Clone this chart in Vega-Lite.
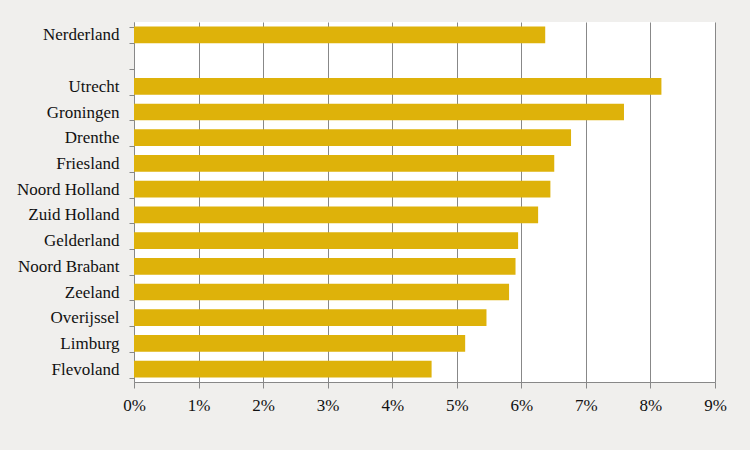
{
  "$schema": "https://vega.github.io/schema/vega-lite/v6.json",
  "width": 581,
  "height": 360,
  "autosize": {"type": "none"},
  "padding": {"left": 134, "top": 22, "right": 35, "bottom": 68},
  "background": "#f0efed",
  "view": {"fill": "#ffffff", "stroke": null},
  "data": {
    "values": [
      {"regio": "Nerderland", "waarde": 0.0637},
      {"regio": "Utrecht", "waarde": 0.0817},
      {"regio": "Groningen", "waarde": 0.0759},
      {"regio": "Drenthe", "waarde": 0.0677},
      {"regio": "Friesland", "waarde": 0.0651},
      {"regio": "Noord Holland", "waarde": 0.0645},
      {"regio": "Zuid Holland", "waarde": 0.0626},
      {"regio": "Gelderland", "waarde": 0.0595},
      {"regio": "Noord Brabant", "waarde": 0.0591},
      {"regio": "Zeeland", "waarde": 0.0581},
      {"regio": "Overijssel", "waarde": 0.0546},
      {"regio": "Limburg", "waarde": 0.0513},
      {"regio": "Flevoland", "waarde": 0.0461}
    ]
  },
  "mark": {"type": "bar", "color": "#deb20a"},
  "encoding": {
    "y": {
      "field": "regio",
      "type": "nominal",
      "sort": null,
      "scale": {
        "domain": ["Nerderland", " ", "Utrecht", "Groningen", "Drenthe", "Friesland", "Noord Holland", "Zuid Holland", "Gelderland", "Noord Brabant", "Zeeland", "Overijssel", "Limburg", "Flevoland"],
        "paddingInner": 0.35,
        "paddingOuter": 0.175
      },
      "axis": {
        "title": null,
        "tickBand": "extent",
        "domainColor": "#888888",
        "tickColor": "#888888",
        "tickSize": 5,
        "labelPadding": 10,
        "labelFont": "Liberation Serif",
        "labelFontSize": 17,
        "labelColor": "#111111",
        "labelBound": false,
        "grid": false
      }
    },
    "x": {
      "field": "waarde",
      "type": "quantitative",
      "scale": {"domain": [0, 0.09], "nice": false},
      "axis": {
        "title": null,
        "format": ".0%",
        "values": [0, 0.01, 0.02, 0.03, 0.04, 0.05, 0.06, 0.07, 0.08, 0.09],
        "grid": true,
        "gridColor": "#888888",
        "gridOpacity": 1,
        "domainColor": "#888888",
        "tickColor": "#888888",
        "tickSize": 6,
        "labelPadding": 9,
        "labelFont": "Liberation Serif",
        "labelFontSize": 17,
        "labelColor": "#111111",
        "labelFlush": false
      }
    }
  }
}
